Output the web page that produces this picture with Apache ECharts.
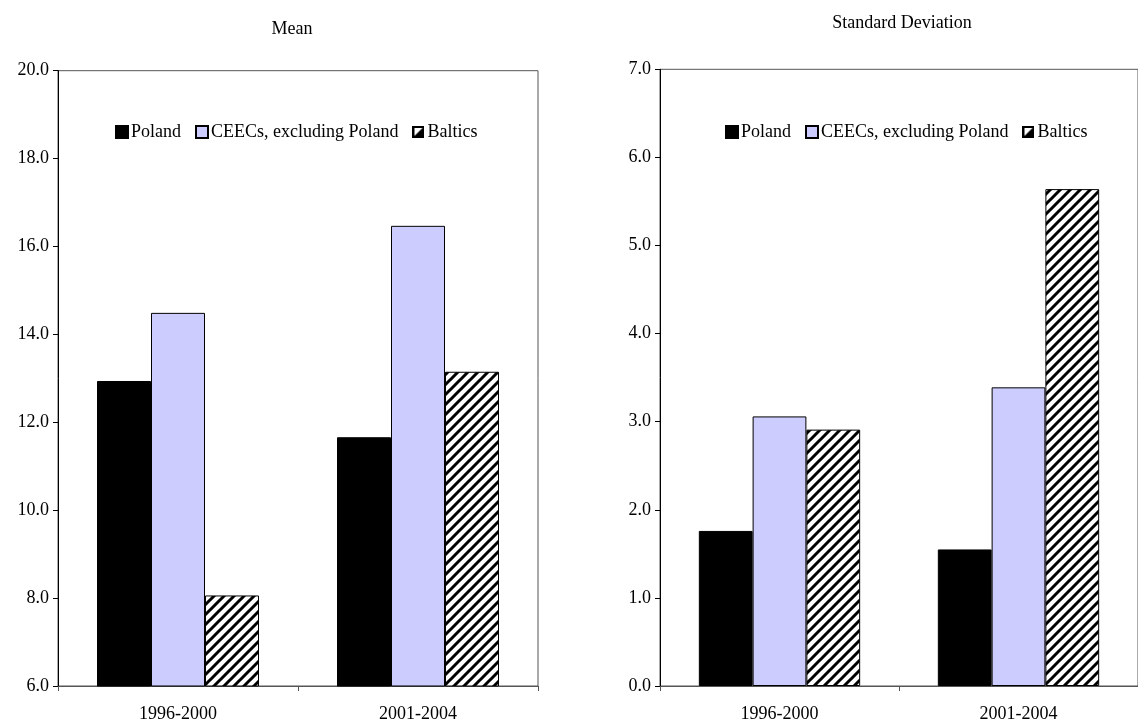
<!DOCTYPE html>
<html><head><meta charset="utf-8">
<script src="https://cdn.jsdelivr.net/npm/echarts@6/dist/echarts.min.js"></script>
<style>html,body{margin:0;padding:0;background:#fff}#c{width:1138px;height:723px}</style>
</head><body><div id="c"></div>
<script>
const categories = ['1996-2000', '2001-2004'];
const seriesNames = ['Poland', 'CEECs, excluding Poland', 'Baltics'];
const meanPoland = [12.94, 11.66];
const meanCEECs = [14.49, 16.47];
const meanBaltics = [8.06, 13.15];
const sdPoland = [1.76, 1.55];
const sdCEECs = [3.06, 3.39];
const sdBaltics = [2.91, 5.64];

function makePattern() {
  const s = 10;
  const c = document.createElement('canvas');
  c.width = s; c.height = s;
  const ctx = c.getContext('2d');
  ctx.fillStyle = '#fff'; ctx.fillRect(0, 0, s, s);
  ctx.strokeStyle = '#000'; ctx.lineWidth = 3;
  ctx.beginPath();
  ctx.moveTo(-2, s + 2); ctx.lineTo(s + 2, -2);
  ctx.moveTo(-2, 2); ctx.lineTo(2, -2);
  ctx.moveTo(s - 2, s + 2); ctx.lineTo(s + 2, s - 2);
  ctx.stroke();
  return c;
}
function makeLegendIcon() {
  const c = document.createElement('canvas');
  c.width = 12; c.height = 12;
  const ctx = c.getContext('2d');
  ctx.fillStyle = '#fff'; ctx.fillRect(0, 0, 12, 12);
  ctx.fillStyle = '#000';
  ctx.beginPath(); ctx.moveTo(12, 0); ctx.lineTo(12, 12); ctx.lineTo(0, 12); ctx.closePath(); ctx.fill();
  ctx.strokeStyle = '#000'; ctx.lineWidth = 2; ctx.strokeRect(1, 1, 10, 10);
  return 'image://' + c.toDataURL();
}
const pattern = { image: makePattern(), repeat: 'repeat' };
const baltIcon = makeLegendIcon();
const FONT = 'Liberation Serif';
const styles = [
  { color: '#000000', borderColor: '#000', borderWidth: 1 },
  { color: '#CCCCFF', borderColor: '#000', borderWidth: 1 },
  { color: pattern, borderColor: '#000', borderWidth: 1 }
];

function yAxis(idx, min, max, interval) {
  return {
    type: 'value', gridIndex: idx, min: min, max: max, interval: interval,
    axisLine: { show: true, lineStyle: { color: '#000', width: 1 } },
    axisTick: { show: true, length: 5, lineStyle: { color: '#000' } },
    splitLine: { show: false },
    axisLabel: { fontFamily: FONT, fontSize: 18, color: '#000', margin: 9,
      formatter: v => v.toFixed(1) }
  };
}
function xAxis(idx) {
  return {
    type: 'category', gridIndex: idx, data: categories,
    axisLine: { show: true, lineStyle: { color: '#555', width: 1 } },
    axisTick: { show: true, length: 5, interval: 0, lineStyle: { color: '#555' } },
    axisLabel: { fontFamily: FONT, fontSize: 18, color: '#000', margin: 19 }
  };
}
function bars(idx, arrs) {
  return arrs.map((d, i) => ({
    type: 'bar', name: seriesNames[i], xAxisIndex: idx, yAxisIndex: idx,
    data: d, barGap: '0%', barCategoryGap: '32.5%',
    itemStyle: styles[i], emphasis: { disabled: true }
  }));
}
function legend(left, gap) {
  return {
    left: left, top: 118, itemWidth: 12, itemHeight: 12, itemGap: gap,
    icon: 'rect',
    data: [seriesNames[0], seriesNames[1], { name: seriesNames[2], icon: baltIcon }],
    selectedMode: false,
    textStyle: { fontFamily: FONT, fontSize: 18, color: '#000', padding: [0, 0, 0, -2] }
  };
}

const chart = echarts.init(document.getElementById('c'), null, { renderer: 'canvas' });
chart.setOption({
  animation: false,
  backgroundColor: '#fff',
  title: [
    { text: 'Mean', left: 287, top: 15, textAlign: 'center',
      textStyle: { fontFamily: FONT, fontSize: 18, fontWeight: 'normal', color: '#000' } },
    { text: 'Standard Deviation', left: 897, top: 9, textAlign: 'center',
      textStyle: { fontFamily: FONT, fontSize: 18, fontWeight: 'normal', color: '#000' } }
  ],
  legend: [legend(110, 14), legend(720, 14)],
  grid: [
    { left: 58, top: 70.7, width: 480, height: 618.3, show: true, borderColor: '#555', borderWidth: 1 },
    { left: 660, top: 69.3, width: 492, height: 616.7, show: true, borderColor: '#555', borderWidth: 1 }
  ],
  xAxis: [xAxis(0), xAxis(1)],
  yAxis: [yAxis(0, 6, 20, 2), yAxis(1, 0, 7, 1)],
  series: [].concat(
    bars(0, [meanPoland, meanCEECs, meanBaltics]),
    bars(1, [sdPoland, sdCEECs, sdBaltics])
  )
});
</script></body></html>
